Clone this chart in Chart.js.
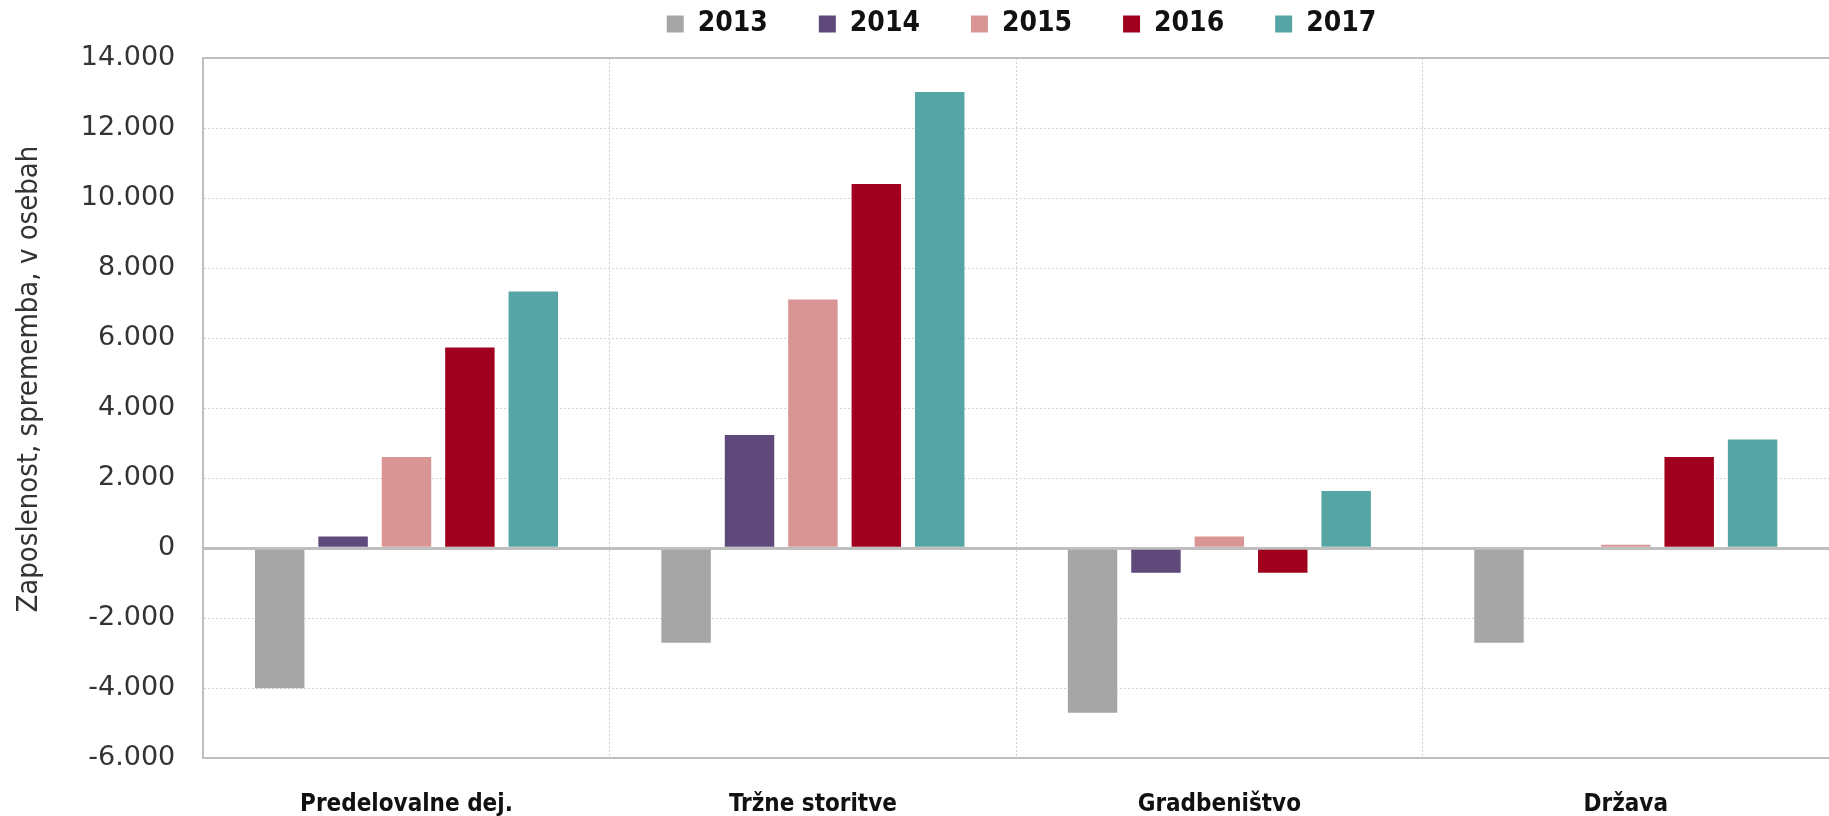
<!DOCTYPE html>
<html>
<head>
<meta charset="utf-8">
<script src="https://cdn.jsdelivr.net/npm/chart.js@4"></script>
<style>
  html, body { margin: 0; padding: 0; background: #fff; }
  #wrap { width: 1829px; height: 816px; }
</style>
</head>
<body>
<div id="wrap"><canvas id="myChart" width="1829" height="816"></canvas></div>
<script>
// categories and yearly changes in employment (persons)
const categories = ["Predelovalne dej.", "Tržne storitve", "Gradbeništvo", "Država"];
const years = ["2013", "2014", "2015", "2016", "2017"];
const v2013 = [-4000, -2700, -4700, -2700];
const v2014 = [330, 3230, -700, 0];
const v2015 = [2600, 7100, 330, 100];
const v2016 = [5730, 10400, -700, 2600];
const v2017 = [7330, 13030, 1630, 3100];
const yTicks = [-6000, -4000, -2000, 0, 2000, 4000, 6000, 8000, 10000, 12000, 14000];

const colors = ["#a6a6a6", "#5f497a", "#d99594", "#a0001e", "#55a5a4"];
const series = [v2013, v2014, v2015, v2016, v2017];

const condensed = "'Liberation Sans Narrow', 'DejaVu Sans Condensed', sans-serif";

const fmt = (v) => {
  let s = Math.abs(v).toString().replace(/\B(?=(\d{3})+(?!\d))/g, ".");
  return (v < 0 ? "-" : "") + s;
};

const solidLine = (c) => c.tick && (c.tick.value === 0 || c.tick.value === 14000);

const legendPad = 51;
const legendTop = 10;
const legendShift = 101;

// moves the legend a bit right of the canvas centre, as in the original
const legendMover = {
  id: "legendMover",
  afterLayout(chart) {
    chart.legend.left += legendShift;
    chart.legend.right += legendShift;
  }
};

const ctx = document.getElementById("myChart").getContext("2d");
const myChart = new Chart(ctx, {
  type: "bar",
  data: {
    labels: categories,
    datasets: series.map((d, i) => ({
      label: years[i],
      data: d,
      backgroundColor: colors[i],
      borderWidth: 0,
      barPercentage: 0.78,
      categoryPercentage: 0.78
    }))
  },
  plugins: [legendMover],
  options: {
    responsive: false,
    animation: false,
    layout: { padding: { left: 12, right: 0, top: legendTop - legendPad, bottom: -35 } },
    plugins: {
      legend: {
        position: "top",
        labels: {
          boxWidth: 17,
          boxHeight: 17,
          padding: legendPad,
          color: "#111",
          font: { family: condensed, size: 28, weight: "bold" }
        }
      },
      tooltip: { enabled: false }
    },
    scales: {
      x: {
        grid: {
          offset: true,
          color: "#d0d0d0",
          lineWidth: 1,
          drawTicks: false
        },
        border: { display: true, color: "#bfbfbf", width: 2, dash: [2, 2] },
        ticks: {
          padding: 32,
          color: "#111",
          font: { family: condensed, size: 24, weight: "bold" }
        }
      },
      y: {
        min: -6000,
        max: 14000,
        afterBuildTicks: (axis) => { axis.ticks = yTicks.map(v => ({ value: v })); },
        grid: {
          color: (c) => solidLine(c) ? "#bfbfbf" : "#d4d4d4",
          lineWidth: (c) => c.tick && c.tick.value === 0 ? 3 : (solidLine(c) ? 2 : 1),
          drawTicks: false
        },
        border: {
          display: true, color: "#bfbfbf", width: 2,
          dash: (c) => solidLine(c) ? [] : [2, 2]
        },
        ticks: {
          padding: 28,
          color: "#333",
          callback: (v) => fmt(v),
          font: { family: "'DejaVu Sans', sans-serif", size: 27 }
        },
        title: {
          display: true,
          // leading spaces lift the title a little above the axis centre
          text: "       Zaposlenost, sprememba, v osebah",
          color: "#333",
          padding: { top: 0, bottom: 6 },
          font: { family: condensed, size: 29 }
        }
      }
    }
  }
});

// the legend keeps its wide item spacing but takes less height
const origFit = myChart.legend.fit;
myChart.legend.fit = function () {
  origFit.call(this);
  this.height = 58 - (legendTop - legendPad);
};
myChart.update();
</script>
</body>
</html>
